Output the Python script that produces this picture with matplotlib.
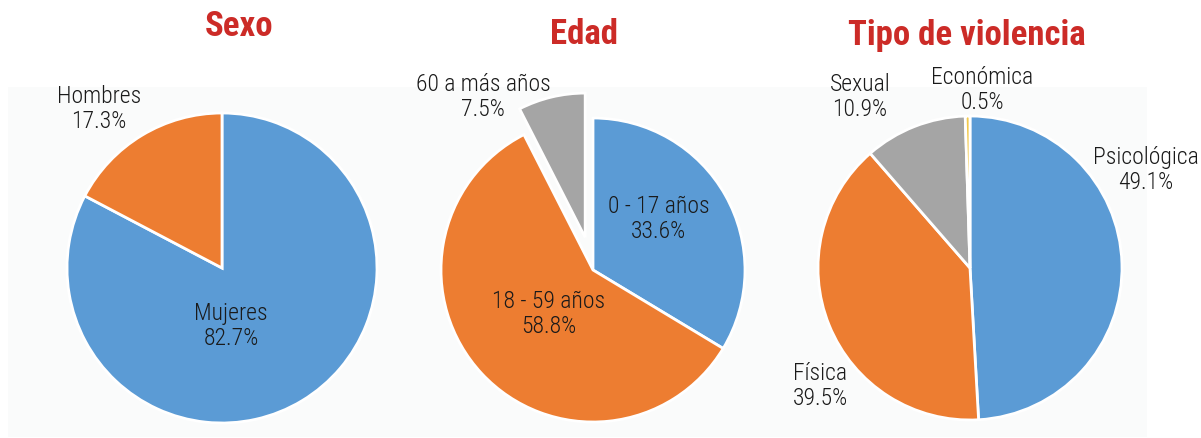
import matplotlib.pyplot as plt
from matplotlib.patches import Rectangle

# data
titles = ["Sexo", "Edad", "Tipo de violencia"]

sexo_labels = ["Mujeres", "Hombres"]
sexo_values = [82.7, 17.3]

edad_labels = ["0 - 17 años", "18 - 59 años", "60 a más años"]
edad_values = [33.6, 58.8, 7.5]

tipo_labels = ["Psicológica", "Física", "Sexual", "Económica"]
tipo_values = [49.1, 39.5, 10.9, 0.5]

# layout (pixel coords, image y goes down)
W, H = 1201, 438
centers = [(222, 268), (593, 270), (970, 268)]
radii = [155, 152, 152]
title_pos = [(239, 27), (584, 35), (967, 36)]
label_pos = [
    [(231, 326), (99, 109)],
    [(659, 219), (549, 314), (483, 97)],
    [(1146, 170), (820, 386), (860, 97), (982, 90)],
]

colors = ["#5b9bd5", "#ed7d31", "#a5a5a5", "#f2c94c"]
font = ["Roboto Condensed", "DejaVu Sans"]
red = "#cc2b27"

fig = plt.figure(figsize=(W / 100, H / 100), dpi=100)
ax = fig.add_axes([0, 0, 1, 1])

# very faint panel behind the pies
ax.add_patch(Rectangle((8, H - 437), 1139, 350, color="#fafbfb", zorder=0, lw=0))

all_vals = [sexo_values, edad_values, tipo_values]
all_labs = [sexo_labels, edad_labels, tipo_labels]
explodes = [None, [0, 0, 0.22], None]   # fraction of radius

for i in range(3):
    cx, cy = centers[i]
    ex = None
    if explodes[i] is not None:
        ex = [e * radii[i] for e in explodes[i]]   # pie wants data units
    wedges, _ = ax.pie(all_vals[i], colors=colors[:len(all_vals[i])], startangle=90,
                       counterclock=False, center=(cx, H - cy), radius=radii[i],
                       explode=ex, frame=True,
                       wedgeprops=dict(edgecolor="white", linewidth=2))
    for w in wedges:
        w.set_zorder(2)
    if i == 1:
        wedges[2].set_radius(radii[i] * 0.95)

    tx, ty = title_pos[i]
    ax.text(tx, H - ty, titles[i], ha="center", va="center", fontsize=25,
            fontweight="bold", color=red, family=font)

    for lab, val, (lx, ly) in zip(all_labs[i], all_vals[i], label_pos[i]):
        ax.text(lx, H - ly, f"{lab}\n{val}%", ha="center", va="center",
                fontsize=17, fontweight="light", color="#1a1a1a", family=font,
                linespacing=1.1, zorder=5)

ax.set_xlim(0, W)
ax.set_ylim(0, H)
ax.set_aspect("equal")
ax.axis("off")

fig.savefig("out.png", dpi=100)
